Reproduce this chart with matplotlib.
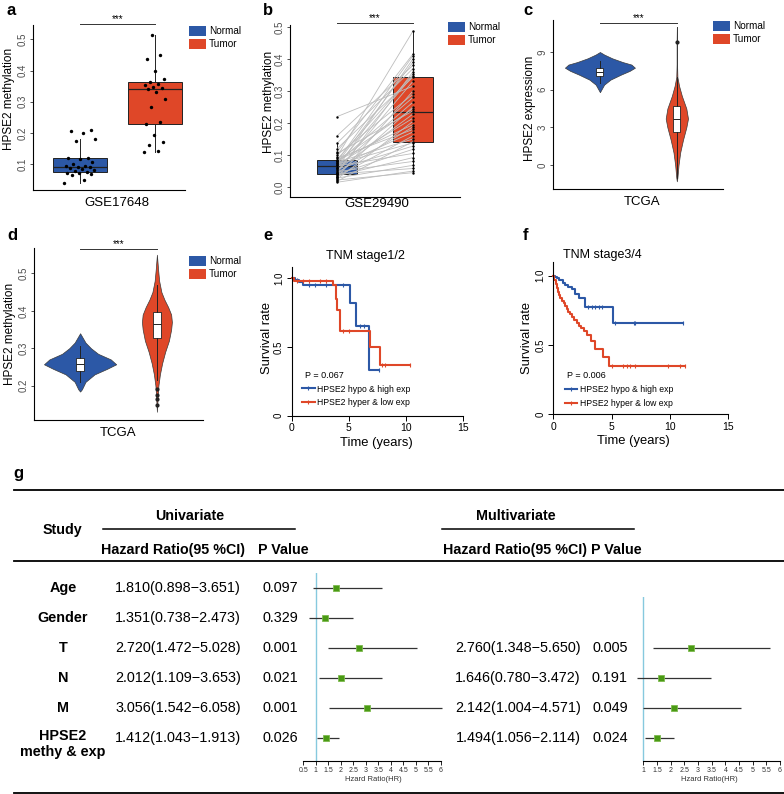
import numpy as np
import matplotlib
matplotlib.use('Agg')
import matplotlib.pyplot as plt
from matplotlib.patches import Patch
from matplotlib.lines import Line2D

plt.rcParams['font.family'] = ['Liberation Sans', 'DejaVu Sans']

# ---------------- data ----------------
groups = ['Normal', 'Tumor']

# a: GSE17648, HPSE2 methylation
a_normal = [0.040, 0.050, 0.065, 0.068, 0.070, 0.072, 0.074, 0.078, 0.080, 0.085,
            0.088, 0.090, 0.092, 0.093, 0.095, 0.100, 0.108, 0.115, 0.118, 0.120,
            0.175, 0.182, 0.200, 0.205, 0.210]
a_tumor = [0.140, 0.143, 0.160, 0.172, 0.194, 0.228, 0.235, 0.282, 0.308, 0.330,
           0.342, 0.344, 0.346, 0.355, 0.358, 0.364, 0.373, 0.398, 0.437, 0.450, 0.515]

# b: GSE29490, paired samples (same order = same patient)
b_normal = [0.015, 0.018, 0.022, 0.025, 0.028, 0.030, 0.033, 0.035, 0.038, 0.040,
            0.041, 0.043, 0.045, 0.048, 0.050, 0.053, 0.056, 0.058, 0.061, 0.064,
            0.066, 0.068, 0.070, 0.072, 0.074, 0.076, 0.078, 0.080, 0.082, 0.083,
            0.086, 0.090, 0.095, 0.100, 0.105, 0.110, 0.120, 0.137, 0.160, 0.220]
b_tumor = [0.050, 0.142, 0.045, 0.205, 0.068, 0.300, 0.160, 0.092, 0.250, 0.118,
           0.058, 0.360, 0.188, 0.080, 0.330, 0.228, 0.128, 0.400, 0.265, 0.172,
           0.105, 0.348, 0.215, 0.138, 0.390, 0.280, 0.150, 0.410, 0.245, 0.195,
           0.352, 0.180, 0.487, 0.290, 0.238, 0.415, 0.343, 0.370, 0.380, 0.315]

# c: TCGA expression, violin outlines (value, relative density)
c_norm_y = [5.8, 6.1, 6.4, 6.8, 7.2, 7.5, 7.75, 8.0, 8.2, 8.5, 8.8, 9.0]
c_norm_w = [0.0, 0.06, 0.12, 0.30, 0.60, 0.85, 1.0, 0.90, 0.65, 0.35, 0.12, 0.0]
c_tum_y = [-1.3, -1.0, -0.5, 0.0, 1.0, 2.0, 3.0, 3.7, 4.5, 5.5, 6.3, 7.0, 8.0, 9.8, 11.0]
c_tum_w = [0.0, 0.05, 0.10, 0.15, 0.30, 0.55, 0.85, 1.0, 0.85, 0.45, 0.20, 0.05, 0.02, 0.02, 0.0]
c_norm_box = dict(whislo=6.5, q1=7.1, med=7.4, q3=7.75, whishi=8.3, fliers=[])
c_tum_box = dict(whislo=-1.0, q1=2.6, med=3.7, q3=4.7, whishi=7.0, fliers=[9.8])

# d: TCGA methylation
d_norm_y = [0.184, 0.19, 0.21, 0.23, 0.245, 0.257, 0.27, 0.285, 0.30, 0.315, 0.33, 0.34]
d_norm_w = [0.0, 0.05, 0.15, 0.40, 0.75, 1.0, 0.85, 0.50, 0.30, 0.15, 0.06, 0.0]
d_tum_y = [0.13, 0.17, 0.20, 0.23, 0.26, 0.29, 0.32, 0.35, 0.37, 0.39, 0.41, 0.43, 0.45, 0.48, 0.51, 0.55]
d_tum_w = [0.0, 0.05, 0.10, 0.20, 0.35, 0.55, 0.80, 0.95, 1.0, 0.95, 0.75, 0.50, 0.30, 0.15, 0.08, 0.0]
d_norm_box = dict(whislo=0.21, q1=0.24, med=0.258, q3=0.275, whishi=0.305, fliers=[])
d_tum_box = dict(whislo=0.215, q1=0.326, med=0.366, q3=0.397, whishi=0.47,
                 fliers=[0.19, 0.175, 0.163, 0.148])

# e / f: Kaplan-Meier steps (time in years, survival), censor times
km_labels = ['HPSE2 hypo & high exp', 'HPSE2 hyper & low exp']
e_hypo_t = [0, 0.3, 0.6, 1.0, 5.1, 5.6, 6.8, 7.7]
e_hypo_s = [1.0, 0.985, 0.97, 0.955, 0.82, 0.65, 0.33, 0.33]
e_hypo_c = [0.5, 1.5, 2.0, 3.0, 4.5, 6.0, 6.3, 7.7]
e_hyper_t = [0, 0.2, 3.6, 3.85, 4.0, 4.2, 6.9, 7.75, 10.4]
e_hyper_s = [1.0, 0.98, 0.95, 0.85, 0.77, 0.62, 0.50, 0.37, 0.37]
e_hyper_c = [0.5, 1.0, 1.5, 2.5, 3.0, 4.5, 5.0, 7.9, 8.2, 10.4]
f_hypo_t = [0, 0.15, 0.3, 0.5, 0.8, 1.0, 1.3, 1.6, 1.9, 2.2, 2.7, 5.1, 11.1]
f_hypo_s = [1.0, 0.99, 0.98, 0.965, 0.95, 0.935, 0.92, 0.90, 0.87, 0.84, 0.77, 0.66, 0.66]
f_hypo_c = [3.0, 3.3, 3.6, 3.9, 4.2, 5.3, 6.9, 7.0, 11.1]
f_hyper_t = [0, 0.1, 0.2, 0.3, 0.4, 0.5, 0.6, 0.75, 0.9, 1.0, 1.15, 1.3, 1.45, 1.6,
             1.8, 2.0, 2.2, 2.4, 2.6, 2.9, 3.2, 3.6, 4.3, 4.8, 11.3]
f_hyper_s = [1.0, 0.97, 0.94, 0.91, 0.88, 0.86, 0.84, 0.82, 0.80, 0.78, 0.76, 0.74, 0.72, 0.70,
             0.68, 0.66, 0.64, 0.62, 0.60, 0.57, 0.53, 0.47, 0.41, 0.35, 0.35]
f_hyper_c = [5.0, 6.0, 6.3, 6.6, 7.0, 9.8, 10.9, 11.3]
e_p = 'P = 0.067'
f_p = 'P = 0.006'

# g: Cox regression table
study = ['Age', 'Gender', 'T', 'N', 'M', 'HPSE2\nmethy & exp']
uni_hr = [1.810, 1.351, 2.720, 2.012, 3.056, 1.412]
uni_lo = [0.898, 0.738, 1.472, 1.109, 1.542, 1.043]
uni_hi = [3.651, 2.473, 5.028, 3.653, 6.058, 1.913]
uni_p = ['0.097', '0.329', '0.001', '0.021', '0.001', '0.026']
multi_idx = [2, 3, 4, 5]
multi_hr = [2.760, 1.646, 2.142, 1.494]
multi_lo = [1.348, 0.780, 1.004, 1.056]
multi_hi = [5.650, 3.472, 4.571, 2.114]
multi_p = ['0.005', '0.191', '0.049', '0.024']

BLUE = '#2C58A6'
RED = '#DF4728'
GREEN = '#4A9A14'
DARK = '#222222'

W, H = 784, 794
fig = plt.figure(figsize=(W / 100, H / 100), dpi=100)


def px_axes(l, t, r, b):
    ax = fig.add_axes([l / W, 1 - b / H, (r - l) / W, (b - t) / H])
    ax.patch.set_alpha(0)
    return ax


# overlay in pixel units for free text and table rules
tab = fig.add_axes([0, 0, 1, 1])
tab.set_xlim(0, W)
tab.set_ylim(H, 0)
tab.axis('off')


def gg_axes(ax, xlim, ylim, yticks, fmt):
    ax.set_xlim(xlim)
    ax.set_ylim(ylim)
    ax.set_xticks([])
    ax.set_yticks(yticks)
    ax.set_yticklabels([fmt % v for v in yticks])
    for s in ['top', 'right']:
        ax.spines[s].set_visible(False)
    for s in ['left', 'bottom']:
        ax.spines[s].set_linewidth(0.8)
    ax.tick_params(axis='y', length=2.5, width=0.6, color='#333333',
                   labelcolor='#4D4D4D', labelsize=7, pad=1.5)
    for lab in ax.get_yticklabels():
        lab.set_rotation(90)
        lab.set_va('center')


def bracket(ax, y):
    ax.plot([1, 2], [y, y], color='#333333', lw=0.7, clip_on=False)
    ax.text(1.5, y, '***', ha='center', va='bottom', fontsize=7)


def group_legend(x, y):
    hs = [Patch(facecolor=BLUE, edgecolor='none'), Patch(facecolor=RED, edgecolor='none')]
    fig.legend(hs, groups, loc='upper left', bbox_to_anchor=(x / W, 1 - y / H),
               frameon=False, fontsize=7.2, handlelength=1.7, handleheight=1.1,
               handletextpad=0.3, labelspacing=0.3, borderpad=0, borderaxespad=0)


def jitter(n, spread):
    return ((np.arange(n) * 0.618034) % 1 - 0.5) * 2 * spread


box_kw = dict(patch_artist=True, showfliers=False, showcaps=False,
              medianprops=dict(color=DARK, lw=0.9),
              whiskerprops=dict(color=DARK, lw=0.7),
              boxprops=dict(edgecolor=DARK, lw=0.7))

# ---- a ----
ax = px_axes(33, 25, 185, 190)
bp = ax.boxplot([a_normal, a_tumor], positions=[1, 2], widths=0.72, **box_kw)
for p, c in zip(bp['boxes'], [BLUE, RED]):
    p.set_facecolor(c)
ax.scatter(1 + jitter(len(a_normal), 0.21), a_normal, s=6, color='black', zorder=3, lw=0)
ax.scatter(2 + jitter(len(a_tumor), 0.15), a_tumor, s=6, color='black', zorder=3, lw=0)
gg_axes(ax, (0.37, 2.4), (0.017, 0.546), [0.1, 0.2, 0.3, 0.4, 0.5], '%.1f')
bracket(ax, 0.549)
group_legend(189, 26)

# ---- b ----
ax = px_axes(290, 25, 460, 197)
bp = ax.boxplot([b_normal, b_tumor], positions=[1, 2], widths=0.52, **box_kw)
for p, c in zip(bp['boxes'], [BLUE, RED]):
    p.set_facecolor(c)
for n, t in zip(b_normal, b_tumor):
    ax.plot([1, 2], [n, t], color='#BDBDBD', lw=0.6, zorder=3)
ax.scatter([1] * len(b_normal), b_normal, s=3, color='black', zorder=4, lw=0)
ax.scatter([2] * len(b_tumor), b_tumor, s=3, color='black', zorder=4, lw=0)
gg_axes(ax, (0.38, 2.62), (-0.031, 0.506), [0.0, 0.1, 0.2, 0.3, 0.4, 0.5], '%.1f')
bracket(ax, 0.513)
group_legend(448, 22)


def violins(ax, shapes, widths, boxes, boxw):
    stats = []
    for y, w in shapes:
        stats.append(dict(coords=np.array(y), vals=np.array(w), mean=np.mean(y),
                          median=np.median(y), min=min(y), max=max(y)))
    vp = ax.violin(stats, positions=[1, 2], widths=widths, showextrema=False)
    for body, c in zip(vp['bodies'], [BLUE, RED]):
        body.set_facecolor(c)
        body.set_edgecolor('#3A3A3A')
        body.set_linewidth(0.5)
        body.set_alpha(1)
    ax.bxp(boxes, positions=[1, 2], widths=boxw, patch_artist=True, showcaps=False,
           boxprops=dict(facecolor='white', edgecolor=DARK, lw=0.6),
           medianprops=dict(color=DARK, lw=0.7),
           whiskerprops=dict(color=DARK, lw=0.7),
           flierprops=dict(marker='o', ms=2, mfc=DARK, mec=DARK))


# ---- c ----
ax = px_axes(553, 20, 723, 189)
violins(ax, [(c_norm_y, c_norm_w), (c_tum_y, c_tum_w)], [0.91, 0.29],
        [c_norm_box, c_tum_box], 0.09)
gg_axes(ax, (0.39, 2.6), (-1.91, 11.55), [0, 3, 6, 9], '%d')
bracket(ax, 11.28)
group_legend(713, 21)

# ---- d ----
ax = px_axes(34, 248, 203, 420)
violins(ax, [(d_norm_y, d_norm_w), (d_tum_y, d_tum_w)], [0.94, 0.39],
        [d_norm_box, d_tum_box], 0.1)
gg_axes(ax, (0.4, 2.6), (0.108, 0.568), [0.2, 0.3, 0.4, 0.5], '%.1f')
bracket(ax, 0.564)
group_legend(189, 256)


# ---- e / f ----
def km(ax, curves, ytop, leg_xy):
    for t, s, cens, col in curves:
        ax.step(t, s, where='post', color=col, lw=1.5, clip_on=False)
        idx = np.searchsorted(t, cens, side='right') - 1
        ax.plot(cens, np.array(s)[idx], ls='none', marker='|', ms=3, mew=0.8,
                color=col, clip_on=False)
    ax.set_xlim(0, 15)
    ax.set_ylim(0, ytop)
    for sp in ['top', 'right']:
        ax.spines[sp].set_visible(False)
    for sp in ['left', 'bottom']:
        ax.spines[sp].set_linewidth(0.8)
    ax.set_xticks([0, 5, 10, 15])
    ax.set_yticks([0, 0.5, 1.0])
    ax.set_yticklabels(['0', '0.5', '1.0'])
    ax.tick_params(length=3.5, width=0.7, labelsize=7.5, pad=2)
    for lab in ax.get_yticklabels():
        lab.set_rotation(90)
        lab.set_va('center')
        lab.set_fontsize(7)
    hs = [Line2D([0], [0], color=BLUE, lw=1.5, marker='|', ms=3, mew=0.8),
          Line2D([0], [0], color=RED, lw=1.5, marker='|', ms=3, mew=0.8)]
    ax.legend(hs, km_labels, loc='upper left',
              bbox_to_anchor=(leg_xy[0] / W, 1 - leg_xy[1] / H),
              bbox_transform=fig.transFigure, frameon=False, fontsize=6.2,
              handlelength=1.5, handletextpad=0.25, labelspacing=0.55,
              borderpad=0, borderaxespad=0, numpoints=1)


ax = px_axes(291.7, 266.8, 462.7, 415.7)
km(ax, [(e_hypo_t, e_hypo_s, e_hypo_c, BLUE), (e_hyper_t, e_hyper_s, e_hyper_c, RED)],
   1.084, (302, 384.5))
ax = px_axes(553.3, 261.7, 728.3, 414.3)
km(ax, [(f_hypo_t, f_hypo_s, f_hypo_c, BLUE), (f_hyper_t, f_hyper_s, f_hyper_c, RED)],
   1.10, (564.5, 385.5))

tab.text(365, 256, 'TNM stage1/2', ha='center', va='center', fontsize=9)
tab.text(602, 255, 'TNM stage3/4', ha='center', va='center', fontsize=9)
tab.text(305, 375, e_p, ha='left', va='center', fontsize=6.5)
tab.text(567, 375, f_p, ha='left', va='center', fontsize=6.5)
for x in [267, 527]:
    tab.text(x, 338, 'Survival rate', rotation=90, ha='center', va='center', fontsize=9.3)
tab.text(376, 443, 'Time (years)', ha='center', va='center', fontsize=9.4)
tab.text(633, 441, 'Time (years)', ha='center', va='center', fontsize=9.4)

# axis titles of a-d
tab.text(9, 99, 'HPSE2 methylation', rotation=90, ha='center', va='center', fontsize=8.5)
tab.text(269, 102, 'HPSE2 methylation', rotation=90, ha='center', va='center', fontsize=8.5)
tab.text(530, 108, 'HPSE2 expressionn', rotation=90, ha='center', va='center', fontsize=8.5)
tab.text(10, 334, 'HPSE2 methylation', rotation=90, ha='center', va='center', fontsize=8.5)
tab.text(117, 203, 'GSE17648', ha='center', va='center', fontsize=9.5)
tab.text(377, 204, 'GSE29490', ha='center', va='center', fontsize=9.5)
tab.text(642, 202, 'TCGA', ha='center', va='center', fontsize=9.5)
tab.text(118, 433, 'TCGA', ha='center', va='center', fontsize=9.5)

# panel letters
for s, x, y in [('a', 7, 15), ('b', 263, 15), ('c', 523, 15),
                ('d', 7, 240), ('e', 263, 240), ('f', 523, 240), ('g', 13, 478)]:
    tab.text(x, y, s, ha='left', va='baseline', fontsize=12, fontweight='bold')

# ---- g: table ----
for y in [490, 560.7, 792.5]:
    tab.plot([14, W], [y, y], color='black', lw=1.3)
tab.plot([103, 295], [529, 529], color='black', lw=1.1)
tab.plot([442, 634], [529, 529], color='black', lw=1.1)
bold = dict(ha='center', va='center', fontsize=10.3, fontweight='bold')
tab.text(190, 516, 'Univariate', **bold)
tab.text(516, 516, 'Multivariate', **bold)
tab.text(62, 530, 'Study', **bold)
tab.text(173, 550, 'Hazard Ratio(95 %CI)', **bold)
tab.text(283, 550, 'P Value', **bold)
tab.text(542, 550, 'Hazard Ratio(95 %CI) P Value', **bold)

row_y0, row_dy = 587.7, 30
reg = dict(ha='center', va='center', fontsize=10.4)
for i, name in enumerate(study):
    y = row_y0 + i * row_dy
    if '\n' in name:
        tab.text(63, y + 6, name, linespacing=1.15, **dict(bold, fontsize=10.4))
    else:
        tab.text(63, y, name, **dict(bold, fontsize=10.4))
    tab.text(178, y, '%.3f(%.3f\u2212%.3f)' % (uni_hr[i], uni_lo[i], uni_hi[i]), **reg)
    tab.text(280, y, uni_p[i], **reg)
for j, i in enumerate(multi_idx):
    y = row_y0 + i * row_dy
    tab.text(518, y, '%.3f(%.3f\u2212%.3f)' % (multi_hr[j], multi_lo[j], multi_hi[j]), **reg)
    tab.text(610, y, multi_p[j], **reg)


def forest(ax, rows, hr, lo, hi, xlim, ticks, ytop):
    ax.set_xlim(xlim)
    ax.set_ylim(5.77, ytop)
    ax.axvline(1, color='#86C9DE', lw=1)
    ax.hlines(rows, lo, hi, color='#333333', lw=0.9)
    ax.plot(hr, rows, ls='none', marker='s', ms=5, mfc=GREEN, mec='#7DBA4E', mew=0.6)
    for sp in ['top', 'right', 'left']:
        ax.spines[sp].set_visible(False)
    ax.spines['bottom'].set_linewidth(0.8)
    ax.spines['bottom'].set_bounds(ticks[0], ticks[-1])
    ax.set_yticks([])
    ax.set_xticks(ticks)
    ax.set_xticklabels(['%g' % t for t in ticks])
    ax.tick_params(axis='x', length=3, width=0.6, labelsize=5, pad=1.5, labelcolor='#333333')
    ax.set_xlabel('Hzard Ratio(HR)', fontsize=5.5, labelpad=1.5, color='#333333')


ax = px_axes(300.8, 572.7, 445.8, 760.7)
forest(ax, np.arange(len(study)), uni_hr, uni_lo, uni_hi, (0.4, 6.2),
       np.arange(0.5, 6.01, 0.5), -0.5)
ax = px_axes(635.6, 597, 783.3, 760.7)
forest(ax, multi_idx, multi_hr, multi_lo, multi_hi, (0.72, 6.12),
       np.arange(1, 6.01, 0.5), 0.31)

fig.savefig('out.png', dpi=100)
